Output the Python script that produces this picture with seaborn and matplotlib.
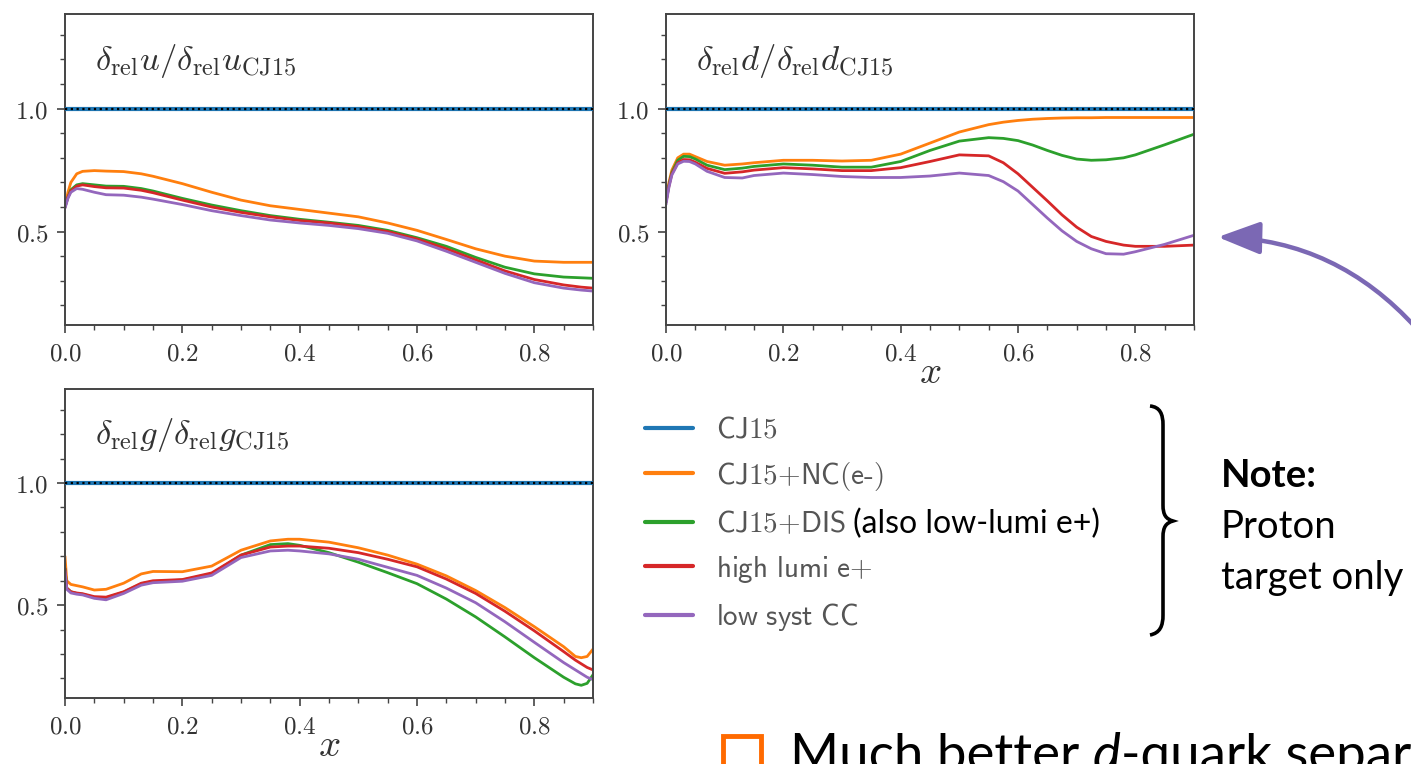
import numpy as np
import pandas as pd
import matplotlib
matplotlib.use("Agg")
import matplotlib.pyplot as plt
import seaborn as sns
from matplotlib.ticker import FuncFormatter, MultipleLocator, FixedLocator
from matplotlib.patches import FancyArrowPatch, PathPatch, Rectangle
from matplotlib.path import Path

# ---------------------------------------------------------------- data
series_names = ["CJ15", "CJ15+NC(e-)", "CJ15+DIS", "high lumi e+", "low syst CC"]
series_colors = ["#1f77b4", "#ff7f0e", "#2ca02c", "#d62728", "#9467bd"]

# u-quark panel
x_u = [0.0, 0.005, 0.01, 0.02, 0.03, 0.05, 0.07, 0.1, 0.13, 0.15, 0.2, 0.25, 0.3,
       0.35, 0.4, 0.45, 0.5, 0.55, 0.6, 0.65, 0.7, 0.75, 0.8, 0.85, 0.88, 0.9]
u_cj15 = [1.0] * len(x_u)
u_nc = [0.60, 0.66, 0.70, 0.735, 0.745, 0.748, 0.746, 0.744, 0.735, 0.725, 0.695, 0.66, 0.628,
        0.605, 0.59, 0.575, 0.56, 0.535, 0.505, 0.468, 0.43, 0.40, 0.38, 0.375, 0.375, 0.375]
u_dis = [0.60, 0.64, 0.67, 0.69, 0.695, 0.69, 0.685, 0.684, 0.675, 0.665, 0.635, 0.608, 0.585,
         0.565, 0.55, 0.538, 0.525, 0.505, 0.475, 0.44, 0.395, 0.355, 0.328, 0.315, 0.312, 0.31]
u_hl = [0.60, 0.64, 0.665, 0.685, 0.69, 0.683, 0.678, 0.677, 0.668, 0.658, 0.628, 0.60, 0.578,
        0.56, 0.545, 0.535, 0.52, 0.50, 0.47, 0.43, 0.385, 0.34, 0.305, 0.283, 0.274, 0.27]
u_cc = [0.595, 0.635, 0.66, 0.675, 0.672, 0.66, 0.65, 0.648, 0.64, 0.632, 0.61, 0.585, 0.565,
        0.547, 0.535, 0.525, 0.512, 0.493, 0.462, 0.42, 0.375, 0.33, 0.292, 0.27, 0.262, 0.258]

# d-quark panel
x_d = [0.0, 0.005, 0.01, 0.02, 0.03, 0.04, 0.05, 0.07, 0.1, 0.13, 0.15, 0.2, 0.25, 0.3, 0.35,
       0.4, 0.45, 0.5, 0.55, 0.575, 0.6, 0.625, 0.65, 0.675, 0.7, 0.725, 0.75, 0.78, 0.8, 0.85, 0.9]
d_cj15 = [1.0] * len(x_d)
d_nc = [0.62, 0.70, 0.75, 0.80, 0.815, 0.815, 0.805, 0.785, 0.77, 0.775, 0.78, 0.79, 0.79, 0.787,
        0.79, 0.815, 0.86, 0.905, 0.935, 0.945, 0.952, 0.957, 0.96, 0.962, 0.963, 0.963, 0.964,
        0.964, 0.964, 0.964, 0.964]
d_dis = [0.62, 0.69, 0.74, 0.79, 0.806, 0.805, 0.795, 0.77, 0.752, 0.758, 0.765, 0.775, 0.77, 0.762,
         0.762, 0.785, 0.83, 0.868, 0.882, 0.879, 0.87, 0.852, 0.83, 0.81, 0.795, 0.79, 0.792,
         0.80, 0.812, 0.853, 0.896]
d_hl = [0.62, 0.685, 0.735, 0.78, 0.793, 0.792, 0.782, 0.757, 0.737, 0.743, 0.75, 0.76, 0.755, 0.748,
        0.748, 0.76, 0.785, 0.812, 0.808, 0.78, 0.735, 0.68, 0.625, 0.568, 0.518, 0.48, 0.46,
        0.445, 0.44, 0.44, 0.445]
d_cc = [0.61, 0.68, 0.73, 0.775, 0.786, 0.785, 0.775, 0.745, 0.72, 0.718, 0.728, 0.738, 0.732, 0.724,
        0.72, 0.72, 0.726, 0.738, 0.728, 0.703, 0.665, 0.61, 0.555, 0.503, 0.46, 0.43, 0.41,
        0.408, 0.418, 0.448, 0.485]

# gluon panel
x_g = [0.0, 0.003, 0.01, 0.02, 0.03, 0.05, 0.07, 0.1, 0.13, 0.15, 0.2, 0.25, 0.3, 0.35, 0.38,
       0.4, 0.45, 0.5, 0.55, 0.6, 0.65, 0.7, 0.75, 0.8, 0.85, 0.87, 0.88, 0.89, 0.9]
g_cj15 = [1.0] * len(x_g)
g_nc = [0.70, 0.60, 0.585, 0.58, 0.575, 0.562, 0.565, 0.59, 0.628, 0.638, 0.637, 0.66, 0.725, 0.763,
        0.77, 0.77, 0.758, 0.735, 0.705, 0.668, 0.62, 0.56, 0.49, 0.412, 0.33, 0.29, 0.285, 0.29, 0.32]
g_dis = [0.65, 0.57, 0.555, 0.548, 0.545, 0.532, 0.53, 0.553, 0.588, 0.597, 0.603, 0.628, 0.705, 0.748,
         0.752, 0.745, 0.715, 0.676, 0.633, 0.588, 0.525, 0.452, 0.37, 0.285, 0.205, 0.178, 0.172, 0.18, 0.215]
g_hl = [0.65, 0.57, 0.555, 0.55, 0.547, 0.535, 0.533, 0.555, 0.59, 0.60, 0.605, 0.632, 0.705, 0.738,
        0.742, 0.742, 0.733, 0.715, 0.688, 0.657, 0.607, 0.548, 0.475, 0.395, 0.31, 0.275, 0.26, 0.245, 0.235]
g_cc = [0.64, 0.565, 0.55, 0.545, 0.542, 0.528, 0.522, 0.548, 0.582, 0.592, 0.598, 0.622, 0.695, 0.722,
        0.725, 0.722, 0.71, 0.688, 0.655, 0.622, 0.57, 0.51, 0.432, 0.348, 0.265, 0.235, 0.22, 0.205, 0.195]

x_ticks = [0.0, 0.2, 0.4, 0.6, 0.8]
y_ticks = [0.5, 1.0]

panel_labels = [r"$\delta_{\rm rel}u/\delta_{\rm rel}u_{\rm CJ15}$",
                r"$\delta_{\rm rel}d/\delta_{\rm rel}d_{\rm CJ15}$",
                r"$\delta_{\rm rel}g/\delta_{\rm rel}g_{\rm CJ15}$"]

legend_labels = [r"$\mathsf{CJ15}$", r"$\mathsf{CJ15{+}NC(e\text{-})}$", r"$\mathsf{CJ15{+}DIS}$",
                 r"$\mathsf{high\ lumi\ e{+}}$", r"$\mathsf{low\ syst\ CC}$"]
legend_note = "(also low-lumi e+)"
note_lines = ["Note:", "Proton", "target only"]
bullet_parts = ["Much better ", "d", "-quark separation"]

# ---------------------------------------------------------------- style
sns.set_theme(style="ticks")
plt.rcParams["font.family"] = ["Lato", "DejaVu Sans"]
plt.rcParams["mathtext.fontset"] = "cm"

W, H = 1411, 764
fig = plt.figure(figsize=(W / 100, H / 100), dpi=100)


def fx(px):
    return px / W


def fy(py):
    return 1 - py / H


def long_frame(x, cols):
    frames = []
    for name, vals in zip(series_names, cols):
        frames.append(pd.DataFrame({"x": x, "ratio": vals, "set": name}))
    return pd.concat(frames, ignore_index=True)


panels = [
    (x_u, [u_cj15, u_nc, u_dis, u_hl, u_cc], (65, 14, 593, 325), False),
    (x_d, [d_cj15, d_nc, d_dis, d_hl, d_cc], (666, 14, 1194, 325), True),
    (x_g, [g_cj15, g_nc, g_dis, g_hl, g_cc], (65, 389, 593, 698), True),
]

axes = []
for (x, cols, box, with_xlabel), label in zip(panels, panel_labels):
    l, t, r, b = box
    ax = fig.add_axes([fx(l), fy(b), (r - l) / W, (b - t) / H])
    df = long_frame(x, cols)
    sns.lineplot(data=df, x="x", y="ratio", hue="set", hue_order=series_names,
                 palette=series_colors, estimator=None, sort=True, linewidth=2.0,
                 legend=False, ax=ax)
    # CJ15 reference drawn thicker with a dotted black overlay
    ax.lines[0].set_linewidth(3.0)
    ax.lines[0].set_zorder(3)
    ax.plot(x, cols[0], linestyle=(0, (1.0, 1.6)), color="black", linewidth=1.6, zorder=4)

    ax.set_xlim(0.0, 0.9)
    ax.set_ylim(0.12, 1.385)
    ax.xaxis.set_major_locator(FixedLocator(x_ticks))
    ax.xaxis.set_minor_locator(MultipleLocator(0.05))
    ax.yaxis.set_major_locator(FixedLocator(y_ticks))
    ax.yaxis.set_minor_locator(MultipleLocator(0.1))
    fmt = FuncFormatter(lambda v, p: rf"${v:.1f}$")
    ax.xaxis.set_major_formatter(fmt)
    ax.yaxis.set_major_formatter(fmt)
    ax.tick_params(which="major", direction="out", length=6, width=1.2, color="#444444",
                   labelsize=18, labelcolor="#333333", pad=6)
    ax.tick_params(which="minor", direction="out", length=3.5, width=1.0, color="#444444")
    for sp in ax.spines.values():
        sp.set_visible(True)
        sp.set_color("#444444")
        sp.set_linewidth(1.4)
    ax.set_ylabel("")
    if with_xlabel:
        ax.set_xlabel(r"$x$", fontsize=28, color="#333333", labelpad=-8)
    else:
        ax.set_xlabel("")
    ax.text(0.057, 0.85, label, transform=ax.transAxes, va="center", ha="left",
            fontsize=25, color="#333333")
    axes.append(ax)

# ---------------------------------------------------------------- legend
handles = axes[0].lines[:5]
leg = fig.legend(handles, legend_labels, loc="upper left",
                 bbox_to_anchor=(fx(645), fy(417)), frameon=False,
                 fontsize=21, handlelength=1.65, handletextpad=0.8, labelspacing=0.57,
                 borderpad=0.0, borderaxespad=0.0)
for txt in leg.get_texts():
    txt.set_color("#555555")
for ln in leg.get_lines():
    ln.set_linewidth(3.0)

fig.canvas.draw()
renderer = fig.canvas.get_renderer()
dis_box = leg.get_texts()[2].get_window_extent(renderer)
fig.text(dis_box.x1 + 7, (dis_box.y0 + dis_box.y1) / 2 - 1, legend_note,
         transform=None, ha="left", va="center", fontsize=23, color="black")

# curly brace grouping the legend entries
brace_pts = [(1150, 406), (1160, 407), (1163, 414), (1163, 425),
             (1163, 505),
             (1163, 515), (1166, 519), (1173, 521),
             (1166, 523), (1163, 527), (1163, 537),
             (1163, 615),
             (1163, 626), (1160, 633), (1150, 635)]
brace_codes = [Path.MOVETO, Path.CURVE4, Path.CURVE4, Path.CURVE4,
               Path.LINETO,
               Path.CURVE4, Path.CURVE4, Path.CURVE4,
               Path.CURVE4, Path.CURVE4, Path.CURVE4,
               Path.LINETO,
               Path.CURVE4, Path.CURVE4, Path.CURVE4]
brace = Path([(fx(px), fy(py)) for px, py in brace_pts], brace_codes)
fig.patches.append(PathPatch(brace, transform=fig.transFigure, facecolor="none",
                             edgecolor="black", linewidth=2.6))

for text, ypos, weight in zip(note_lines, [476, 527, 578], ["bold", "normal", "normal"]):
    fig.text(fx(1221), fy(ypos), text, fontsize=27.5, fontweight=weight, color="black",
             va="center", ha="left")

# arrow pointing at the high-x end of the d-quark panel
arrow = FancyArrowPatch((fx(1418), fy(330)), (fx(1215), fy(237)),
                        transform=fig.transFigure, connectionstyle="arc3,rad=0.22",
                        arrowstyle="-|>,head_length=1.3,head_width=0.5",
                        mutation_scale=20, color="#7b68b4", linewidth=3.2)
fig.patches.append(arrow)

# bullet line at the bottom
fig.patches.append(Rectangle((fx(723), fy(790)), (761 - 723) / W, (790 - 736) / H,
                             transform=fig.transFigure, facecolor="none",
                             edgecolor="#ff6a00", linewidth=3.5))
xpos = 790
for part, style in zip(bullet_parts, ["normal", "italic", "normal"]):
    t = fig.text(xpos, fy(771) * H, part, transform=None, fontsize=38, fontstyle=style,
                 color="black", va="baseline", ha="left")
    fig.canvas.draw()
    xpos = t.get_window_extent(fig.canvas.get_renderer()).x1

fig.savefig("out.png", dpi=100)
